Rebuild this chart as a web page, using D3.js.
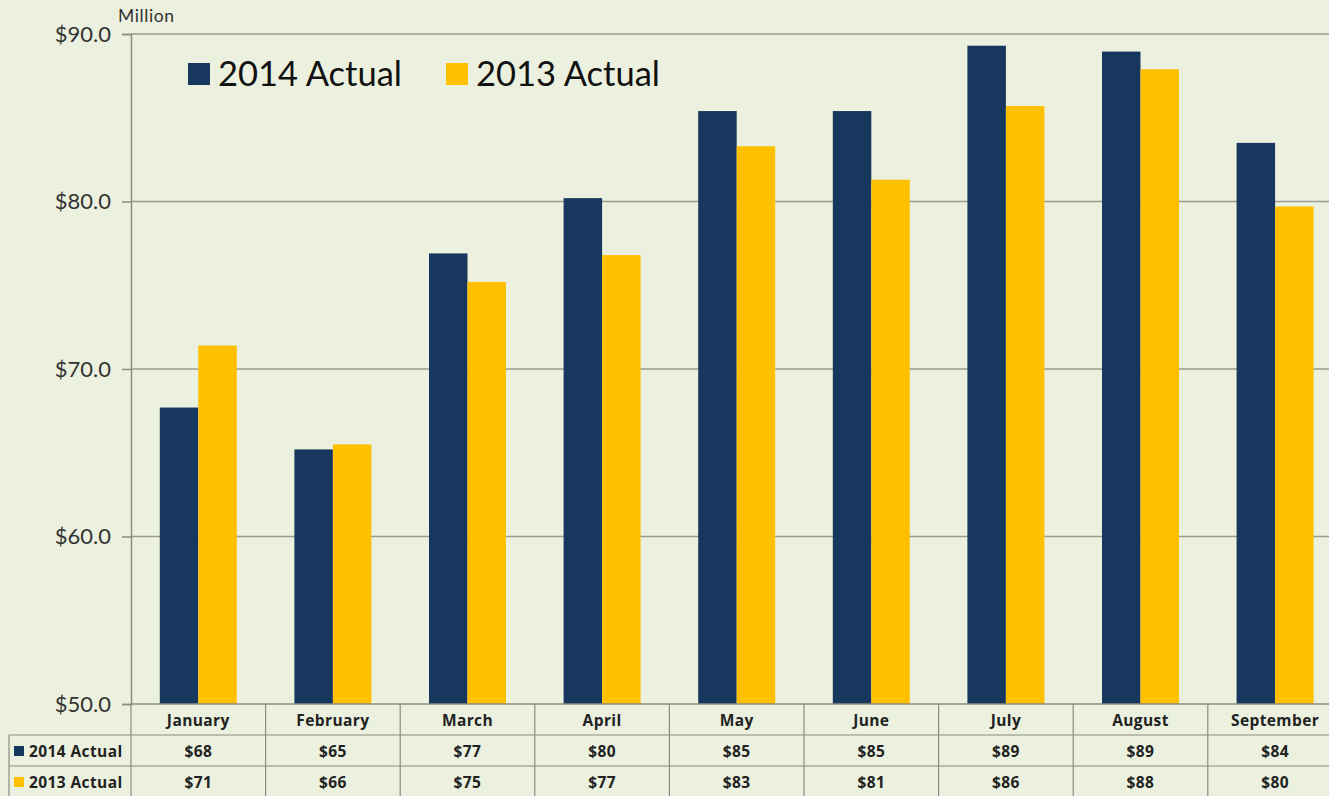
<!DOCTYPE html>
<html><head><meta charset="utf-8">
<script src="https://cdn.jsdelivr.net/npm/d3@7"></script>
<style>body{margin:0;background:#ebf1de;overflow:hidden}</style>
</head><body>
<svg id="c" width="1329" height="796"></svg>
<script>
const months = ["January","February","March","April","May","June","July","August","September"];
const actual2014 = [67.7, 65.2, 76.9, 80.2, 85.4, 85.4, 89.3, 88.95, 83.5];
const actual2013 = [71.4, 65.5, 75.2, 76.8, 83.3, 81.3, 85.7, 87.9, 79.7];
const label2014 = ["$68","$65","$77","$80","$85","$85","$89","$89","$84"];
const label2013 = ["$71","$66","$75","$77","$83","$81","$86","$88","$80"];
const seriesNames = ["2014 Actual","2013 Actual"];
const yTicks = [50,60,70,80,90];

(function(){
const colors = ["#17375e","#ffc000"];
const font = "Lato, 'Open Sans', sans-serif";
const svg = d3.select("#c");
svg.append("rect").attr("width",1329).attr("height",796).attr("fill","#ebf1de");

const plotLeft = 131, plotTop = 34, plotBottom = 704, band = 134.6;
const x = d3.scaleBand().domain(months).range([plotLeft, plotLeft + band*months.length]).paddingInner(0).paddingOuter(0);
const x1 = d3.scaleBand().domain(seriesNames).range([0, band]).paddingInner(0).paddingOuter(0.748);
const y = d3.scaleLinear().domain([50,90]).range([plotBottom, plotTop]);

// gridlines
svg.append("g").selectAll("line").data(yTicks.filter(d=>d>50)).join("line")
  .attr("x1",plotLeft).attr("x2",1329).attr("y1",d=>y(d)).attr("y2",d=>y(d))
  .attr("stroke","#9a9a8e").attr("stroke-width",1.5);

// bars
const g = svg.append("g");
months.forEach((m,i)=>{
  [actual2014[i], actual2013[i]].forEach((v,j)=>{
    g.append("rect").attr("x", x(m)+x1(seriesNames[j])).attr("width", x1.bandwidth())
      .attr("y", y(v)).attr("height", plotBottom - y(v)).attr("fill", colors[j]);
  });
});

const yAxis = d3.axisLeft(y).tickValues(yTicks).tickSize(9).tickFormat(d => "$" + d.toFixed(1));
const gy = svg.append("g").attr("transform",`translate(${plotLeft},0)`).call(yAxis);
gy.select(".domain").attr("stroke","#8c8c80").attr("stroke-width",1.5);
gy.selectAll(".tick line").attr("stroke","#8c8c80").attr("stroke-width",1.5);
gy.selectAll(".tick text").attr("font-family",font).attr("font-size",22).attr("fill","#333").attr("x",-20);

// Million label
svg.append("text").attr("x",118).attr("y",22).text("Million")
  .attr("font-family",font).attr("font-size",17.5).attr("letter-spacing",0.6).attr("fill","#333");

// legend
const leg = [[188,218],[446,476]];
seriesNames.forEach((s,j)=>{
  svg.append("rect").attr("x",leg[j][0]).attr("y",63).attr("width",22).attr("height",22).attr("fill",colors[j]);
  svg.append("text").attr("x",leg[j][1]).attr("y",86).text(s)
    .attr("font-family",font).attr("font-size",34.5).attr("fill","#111");
});

// data table
const tb = svg.append("g");
const rowY = [704, 735, 766, 797];
const lineC = "#8c8c80";
tb.append("line").attr("x1",plotLeft).attr("x2",1329).attr("y1",704).attr("y2",704).attr("stroke",lineC).attr("stroke-width",1.5);
[735,766].forEach(yy=>tb.append("line").attr("x1",9).attr("x2",1329).attr("y1",yy).attr("y2",yy).attr("stroke",lineC).attr("stroke-width",1.2));
tb.append("line").attr("x1",9).attr("x2",9).attr("y1",735).attr("y2",796).attr("stroke",lineC).attr("stroke-width",1.2);
months.forEach(m=>{
  tb.append("line").attr("x1",x(m)).attr("x2",x(m)).attr("y1",704).attr("y2",796).attr("stroke",lineC).attr("stroke-width",1.2);
});
const cellFont = (sel)=>sel.attr("font-family","'Open Sans', Lato, sans-serif").attr("font-weight","bold").attr("font-size",15.5).attr("letter-spacing",0.4).attr("fill","#222");
months.forEach((m,i)=>{
  const cx = x(m) + band/2;
  cellFont(tb.append("text").attr("x",cx).attr("y",726).attr("text-anchor","middle").text(m));
  cellFont(tb.append("text").attr("x",cx).attr("y",757).attr("text-anchor","middle").text(label2014[i]));
  cellFont(tb.append("text").attr("x",cx).attr("y",788).attr("text-anchor","middle").text(label2013[i]));
});
seriesNames.forEach((s,j)=>{
  const yy = rowY[j+1];
  tb.append("rect").attr("x",14).attr("y",yy+11).attr("width",10).attr("height",10).attr("fill",colors[j]);
  cellFont(tb.append("text").attr("x",29).attr("y",yy+22).text(s));
});
})();
</script>
</body></html>
